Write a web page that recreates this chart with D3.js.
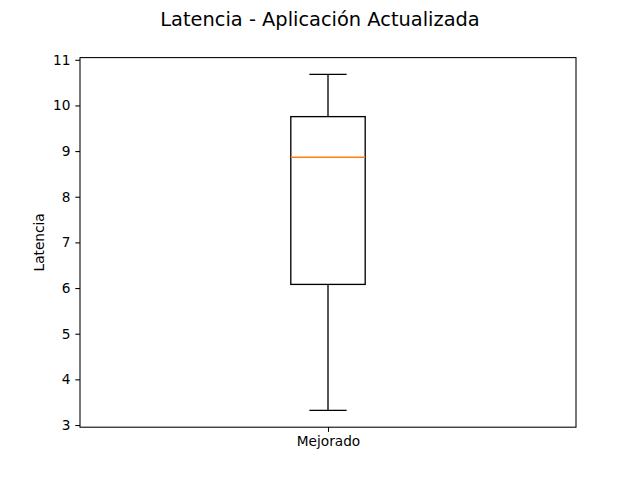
<!DOCTYPE html>
<html><head><meta charset="utf-8">
<script src="https://cdn.jsdelivr.net/npm/d3@7"></script>
<style>body{margin:0;background:#fff}svg{display:block;font-family:"DejaVu Sans",sans-serif}</style>
</head><body><svg id="c" width="640" height="480"></svg>
<script>
const categories = ["Mejorado"];
const whiskerLow = [3.32];
const q1 = [6.08];
const median = [8.865];
const q3 = [9.755];
const whiskerHigh = [10.68];
const yTicks = [3,4,5,6,7,8,9,10,11];

const svg = d3.select("#c");
const L=80,R=576,T=57.6,B=427.2;
const lo=d3.min(whiskerLow), hi=d3.max(whiskerHigh), rg=hi-lo;
const y=d3.scaleLinear().domain([lo-0.05*rg, hi+0.05*rg]).range([B,T]);
const x=d3.scaleLinear().domain([0.5, categories.length+0.5]).range([L,R]);

svg.append("rect").attr("width",640).attr("height",480).attr("fill","#fff");

const g=svg.append("g");
categories.forEach((c,i)=>{
  const cx=x(i+1), bw=x(0.5+0.15)-x(0.5), cw=x(0.5+0.075)-x(0.5);
  const line=(x1,y1,x2,y2,col)=>g.append("line").attr("x1",x1).attr("y1",y1).attr("x2",x2).attr("y2",y2).attr("stroke",col||"#000").attr("stroke-width",1.33);
  line(cx,y(q1[i]),cx,y(whiskerLow[i]));
  line(cx,y(q3[i]),cx,y(whiskerHigh[i]));
  line(cx-cw/2,y(whiskerLow[i]),cx+cw/2,y(whiskerLow[i]));
  line(cx-cw/2,y(whiskerHigh[i]),cx+cw/2,y(whiskerHigh[i]));
  g.append("rect").attr("x",cx-bw/2).attr("y",y(q3[i])).attr("width",bw).attr("height",y(q1[i])-y(q3[i])).attr("fill","none").attr("stroke","#000").attr("stroke-width",1.33);
  line(cx-bw/2,y(median[i]),cx+bw/2,y(median[i]),"#ff7f0e");
});

const yAxis=d3.axisLeft(y).tickValues(yTicks).tickFormat(d3.format("d")).tickSize(4.67).tickPadding(4.9);
const ya=svg.append("g").attr("transform",`translate(${L},0)`).call(yAxis);
const xAxis=d3.axisBottom(x).tickValues(categories.map((c,i)=>i+1)).tickFormat((d)=>categories[d-1]).tickSize(4.67).tickPadding(4.9);
const xa=svg.append("g").attr("transform",`translate(0,${B})`).call(xAxis);
[ya,xa].forEach(a=>{
  a.select(".domain").remove();
  a.selectAll(".tick line").attr("stroke","#000").attr("stroke-width",1.07);
  a.selectAll(".tick text").attr("fill","#000").style("font-size","13.7px").style("font-family","DejaVu Sans");
});

svg.append("rect").attr("x",L).attr("y",T).attr("width",R-L).attr("height",B-T).attr("fill","none").attr("stroke","#000").attr("stroke-width",1.07);

svg.append("text").attr("transform",`translate(44,${(T+B)/2}) rotate(-90)`).attr("text-anchor","middle").style("font-size","13.7px").text("Latencia");
svg.append("text").attr("x",320).attr("y",26).attr("text-anchor","middle").style("font-size","19.4px").text("Latencia - Aplicación Actualizada");
</script></body></html>
